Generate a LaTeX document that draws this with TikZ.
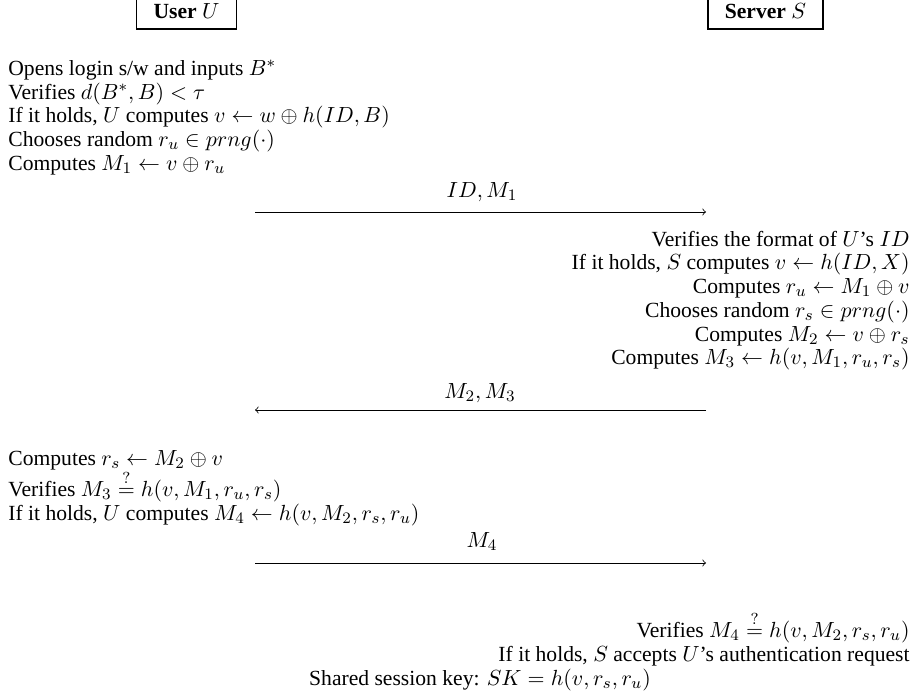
\documentclass[tikz,border=0pt]{standalone}
\usepackage[no-math]{fontspec}
\setmainfont{Liberation Serif}
\usepackage{amsmath}

\begin{document}
\begin{tikzpicture}[x=0.5pt, y=-0.5pt,
  font=\fontsize{10.8}{12}\selectfont,
  party/.style={draw, line width=0.9pt, inner xsep=8.5pt, minimum height=18pt},
  lstep/.style={anchor=base west, inner sep=0pt},
  rstep/.style={anchor=base east, inner sep=0pt},
  msg/.style={->, line width=0.4pt}]

  \useasboundingbox (0,0) rectangle (912,691);

  % the two parties
  \node[party] (user)   at (186.5,11) {\textbf{User} $U$};
  \node[party] (server) at (765.5,11) {\textbf{Server} $S$};

  % user: login phase
  \node[lstep] (u1) at (8,75)  {Opens login s/w and inputs $B^{*}$};
  \node[lstep] (u2) at (8,99)  {Verifies $d(B^{*},B)<\tau$};
  \node[lstep] (u3) at (8,122) {If it holds, $U$ computes $v\leftarrow w\oplus h(ID,B)$};
  \node[lstep] (u4) at (8,146) {Chooses random $r_u\in prng(\cdot)$};
  \node[lstep] (u5) at (8,170) {Computes $M_1\leftarrow v\oplus r_u$};

  % message 1
  \coordinate (m1a) at (255,212);
  \coordinate (m1b) at (706,212);
  \draw[msg] (m1a) -- (m1b);
  \node[anchor=base, inner sep=0pt] (m1) at (482,197) {$ID, M_1$};

  % server side
  \node[rstep] (s1) at (910,246) {Verifies the format of $U$'s $ID$};
  \node[rstep] (s2) at (910,269) {If it holds, $S$ computes $v\leftarrow h(ID,X)$};
  \node[rstep] (s3) at (910,293) {Computes $r_u\leftarrow M_1\oplus v$};
  \node[rstep] (s4) at (910,317) {Chooses random $r_s\in prng(\cdot)$};
  \node[rstep] (s5) at (910,341) {Computes $M_2\leftarrow v\oplus r_s$};
  \node[rstep] (s6) at (910,364) {Computes $M_3\leftarrow h(v,M_1,r_u,r_s)$};

  % message 2
  \coordinate (m2a) at (706,410);
  \coordinate (m2b) at (255,410);
  \draw[msg] (m2a) -- (m2b);
  \node[anchor=base, inner sep=0pt] (m2) at (480,398) {$M_2, M_3$};

  % user checks the reply
  \node[lstep] (u6) at (8,465) {Computes $r_s\leftarrow M_2\oplus v$};
  \node[lstep] (u7) at (8,496) {Verifies $M_3\stackrel{?}{=}h(v,M_1,r_u,r_s)$};
  \node[lstep] (u8) at (8,520) {If it holds, $U$ computes $M_4\leftarrow h(v,M_2,r_s,r_u)$};

  % message 3
  \coordinate (m3a) at (255,563);
  \coordinate (m3b) at (706,563);
  \draw[msg] (m3a) -- (m3b);
  \node[anchor=base, inner sep=0pt] (m3) at (482,547) {$M_4$};

  % server accepts
  \node[rstep] (s7) at (910,637) {Verifies $M_4\stackrel{?}{=}h(v,M_2,r_s,r_u)$};
  \node[rstep] (s8) at (910,661) {If it holds, $S$ accepts $U$'s authentication request};
  \node[anchor=base, inner sep=0pt] (sk) at (480,685) {Shared session key: $SK=h(v,r_s,r_u)$};
\end{tikzpicture}
\end{document}
